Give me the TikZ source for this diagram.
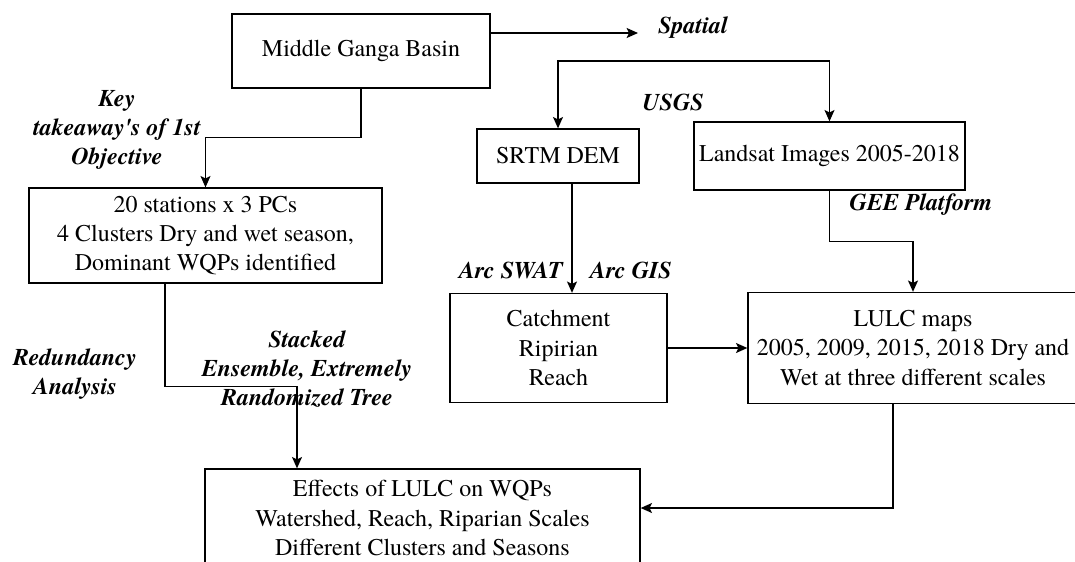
\documentclass[tikz,border=0pt]{standalone}
\usepackage{fontspec}
\setmainfont{texgyretermes}[
  Extension=.otf,
  UprightFont=*-regular,
  BoldFont=*-bold,
  ItalicFont=*-italic,
  BoldItalicFont=*-bolditalic]
\usetikzlibrary{arrows.meta,calc}

\tikzset{
  tip/.tip={Stealth[length=8.5pt,width=7.5pt,inset=1.8pt]},
  box/.style={draw, line width=1pt, inner sep=0pt, align=center,
    font=\fontsize{18pt}{22pt}\selectfont},
  lbl/.style={inner sep=0pt, align=center,
    font=\fontsize{18pt}{22pt}\selectfont\bfseries\itshape},
  arr/.style={line width=1pt, -tip},
  biarr/.style={line width=1pt, tip-tip},
}

\begin{document}
\begin{tikzpicture}[x=0.75pt,y=-0.75pt]
  \path[use as bounding box, clip] (0,0) rectangle (1075,561);

  % boxes
  \node[box, minimum width=193.5pt, minimum height=55.5pt] (mgb) at (361,51) {Middle Ganga Basin};
  \node[box, minimum width=264.75pt, minimum height=71.25pt] (stations) at (205.5,235.5)
    {20 stations x 3 PCs\\4 Clusters Dry and wet season,\\Dominant WQPs identified};
  \node[box, minimum width=121.5pt, minimum height=40.5pt] (srtm) at (558,156) {SRTM DEM};
  \node[box, minimum width=203.25pt, minimum height=51pt] (landsat) at (829.5,156) {Landsat Images 2005-2018};
  \node[box, minimum width=162.75pt, minimum height=81.75pt] (catch) at (558.5,348)
    {Catchment\\Ripirian\\Reach};
  \node[box, minimum width=247.5pt, minimum height=83.25pt] (lulc) at (913,348)
    {LULC maps\\2005, 2009, 2015, 2018 Dry and\\Wet at three different scales};
  \node[box, minimum width=326.25pt, minimum height=73.5pt] (effects) at (422.5,518)
    {Effects of LULC on WQPs\\Watershed, Reach, Riparian Scales\\Different Clusters and Seasons};

  % labels
  \node[lbl] (lspatial) at (693,28) {Spatial};
  \node[lbl] (lusgs) at (673,102) {USGS};
  \node[lbl] (lkey) at (117,130) {Key\\takeaway\textquotesingle s of 1st\\Objective};
  \node[lbl] (lgee) at (921,205) {GEE Platform};
  \node[lbl] (lswat) at (511,270) {Arc SWAT};
  \node[lbl] (lgis) at (631,270) {Arc GIS};
  \node[lbl] (lrda) at (75,374) {Redundancy\\Analysis};
  \node[lbl] (lstack) at (307,369) {Stacked\\Ensemble, Extremely\\Randomized Tree};

  % connectors
  \coordinate (spatialend) at (638,33);
  \coordinate (fork) at (700,61);
  \draw[arr] (spatialend -| mgb.east) -- (spatialend);
  \draw[arr] (mgb.south) -- ++(0,49) -| (stations.north);
  \draw[arr] ($(stations.south)+(-40.5,0)$) -- ++(0,103) -| ($(effects.north)+(-125.5,0)$);
  \draw[biarr] (srtm.north) |- (fork) -| (landsat.north);
  \draw[arr] (landsat.south) -- ++(0,51) -| (lulc.north);
  \draw[arr] ($(srtm.south)+(14,0)$) -- ($(catch.north)+(13.5,0)$);
  \draw[arr] (catch.east) -- (lulc.west);
  \draw[arr] ($(lulc.south)+(-20,0)$) |- ($(effects.east)+(0,-10)$);
\end{tikzpicture}
\end{document}
